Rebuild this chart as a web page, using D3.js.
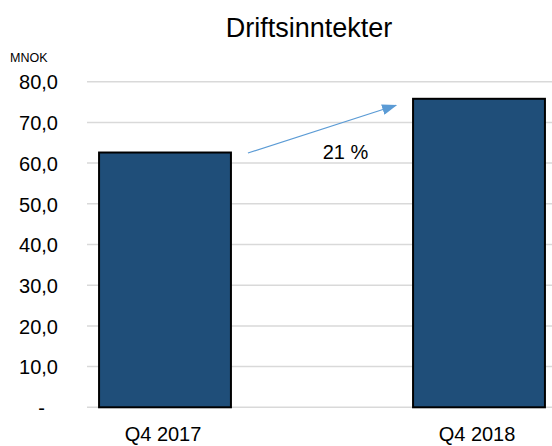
<!DOCTYPE html>
<html>
<head>
<meta charset="utf-8">
<script src="https://cdn.jsdelivr.net/npm/d3@7"></script>
<style>
  html, body { margin: 0; padding: 0; background: #fff; }
  svg { display: block; font-family: "Liberation Sans", Arial, sans-serif; }
</style>
</head>
<body>
<svg id="chart" width="552" height="446"></svg>
<script>
const categories = ["Q4 2017", "Q4 2018"];
const values = [62.6, 75.8];
const yTicks = [0, 10, 20, 30, 40, 50, 60, 70, 80];
const yTickLabels = ["-", "10,0", "20,0", "30,0", "40,0", "50,0", "60,0", "70,0", "80,0"];
const title = "Driftsinntekter";
const unitLabel = "MNOK";
const growthLabel = "21 %";

const svg = d3.select("#chart");

const y = d3.scaleLinear().domain([0, 80]).range([407.3, 81.7]);
const x = d3.scaleBand().domain(categories).range([8, 636]).paddingInner(0.58).paddingOuter(0.29);

// gridlines
svg.append("g")
  .selectAll("line")
  .data(yTicks)
  .join("line")
  .attr("x1", 87).attr("x2", 552)
  .attr("y1", d => y(d)).attr("y2", d => y(d))
  .attr("stroke", "#D9D9D9").attr("stroke-width", 1.5);

// y axis labels
const yAxis = d3.axisLeft(y).tickValues(yTicks).tickSize(0).tickPadding(0)
  .tickFormat((d, i) => yTickLabels[i]);
const gy = svg.append("g").attr("transform", "translate(58,0)").call(yAxis);
gy.select(".domain").remove();
gy.selectAll("text").attr("font-size", 20).attr("fill", "#000")
  .attr("font-family", "Liberation Sans, Arial, sans-serif")
  .attr("dy", "0.36em");
gy.selectAll(".tick").filter(d => d === 0).select("text").attr("x", -13);

// bars
svg.append("g")
  .selectAll("rect")
  .data(values)
  .join("rect")
  .attr("x", (d, i) => x(categories[i]))
  .attr("y", d => y(d))
  .attr("width", x.bandwidth())
  .attr("height", d => y(0) - y(d))
  .attr("fill", "#1F4E79")
  .attr("stroke", "#000")
  .attr("stroke-width", 2);

// x axis labels
const xAxis = d3.axisBottom(x).tickSize(0).tickPadding(0);
const gx = svg.append("g").attr("transform", "translate(-2,441)").call(xAxis);
gx.select(".domain").remove();
gx.selectAll("text").attr("font-size", 20).attr("fill", "#000")
  .attr("font-family", "Liberation Sans, Arial, sans-serif")
  .attr("dy", 0);

// title
svg.append("text")
  .attr("x", 309).attr("y", 37)
  .attr("text-anchor", "middle")
  .attr("font-size", 27)
  .attr("fill", "#000")
  .text(title);

// unit
svg.append("text")
  .attr("x", 10).attr("y", 62)
  .attr("font-size", 12.5)
  .attr("fill", "#000")
  .text(unitLabel);

// growth arrow
const defs = svg.append("defs");
defs.append("marker")
  .attr("id", "arrowhead")
  .attr("viewBox", "0 0 14 10")
  .attr("refX", 13).attr("refY", 5)
  .attr("markerWidth", 15).attr("markerHeight", 11)
  .attr("markerUnits", "userSpaceOnUse")
  .attr("orient", "auto")
  .append("path")
  .attr("d", "M0,0 L14,5 L0,10 z")
  .attr("fill", "#5B9BD5");

const ax1 = x(categories[0]) + x.bandwidth() + 17;
const ay1 = y(values[0]) + 0.5;
const ax2 = x(categories[1]) - 17;
const ay2 = y(values[1]) + 6.5;
svg.append("line")
  .attr("x1", ax1).attr("y1", ay1)
  .attr("x2", ax2).attr("y2", ay2)
  .attr("stroke", "#5B9BD5").attr("stroke-width", 1.2)
  .attr("marker-end", "url(#arrowhead)");

svg.append("text")
  .attr("x", 345.5).attr("y", 159)
  .attr("text-anchor", "middle")
  .attr("font-size", 20)
  .attr("fill", "#000")
  .text(growthLabel);
</script>
</body>
</html>
